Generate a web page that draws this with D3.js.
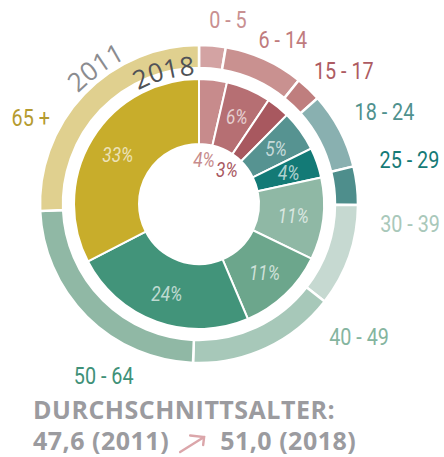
<!DOCTYPE html>
<html>
<head>
<meta charset="utf-8">
<script src="https://cdn.jsdelivr.net/npm/d3@7"></script>
<style>
  html, body { margin: 0; padding: 0; background: #fff; }
  svg { display: block; }
</style>
</head>
<body>
<div id="chart"></div>
<script>
// age groups and shares (percent of population), outer ring = 2011, inner ring = 2018
const ageGroups = ['0 - 5', '6 - 14', '15 - 17', '18 - 24', '25 - 29', '30 - 39', '40 - 49', '50 - 64', '65 +'];
const share2011 = [2.7, 8.1, 2.6, 7.8, 3.9, 10.4, 15.1, 23.7, 25.7];
const share2018 = [3.6, 5.8, 3.0, 5.3, 3.9, 10.6, 11.4, 23.8, 32.6];
const ringYears = ['2011', '2018'];
const averageAge = ['47,6', '51,0'];
const averageTitle = 'DURCHSCHNITTSALTER:';

const colors2011 = ['#d3a3a3', '#c99190', '#bf7e7e', '#89b0b0', '#4e8e8c', '#c6d9d1', '#a7c8b9', '#90b8a5', '#e0d08f'];
const colors2018 = ['#c78b8c', '#b66f73', '#a8585f', '#569391', '#137a76', '#8fb8a5', '#6ca68c', '#42947a', '#c8ad2b'];
const labelColors = ['#c99091', '#c07c7d', '#ad5b62', '#4f918e', '#157a76', '#a9c8ba', '#85b59f', '#3f9178', '#b59b2f'];

const width = 444;
const height = 457;
const cx = 199;
const cy = 204;
const narrow = 0.86; // squeeze to imitate a condensed face
const narrowFont = 'Roboto, "Liberation Sans", sans-serif';
const toRad = (deg) => deg * Math.PI / 180;

// where each age label sits (angle clockwise from 12 o'clock, radius)
const outerLabelPolar = [[8.9, 187], [27.1, 184], [47.3, 197], [63.6, 207], [78.2, 215], [95.4, 212], [129.7, 208], [209.1, 196], [297.1, 189]];

const svg = d3.select('#chart').append('svg')
  .attr('width', width)
  .attr('height', height)
  .attr('viewBox', `0 0 ${width} ${height}`);

const pie = d3.pie().sort(null).value((d) => d);
const arcs2011 = pie(share2011);
const arcs2018 = pie(share2018);

const outerArc = d3.arc().innerRadius(136).outerRadius(159);
const innerArc = d3.arc().innerRadius(60).outerRadius(125);
const labelArc = d3.arc().innerRadius(95).outerRadius(95);
const holeArc = d3.arc().innerRadius(44).outerRadius(44);

const donut = svg.append('g').attr('transform', `translate(${cx},${cy})`);

donut.append('g').selectAll('path')
  .data(arcs2011)
  .join('path')
  .attr('d', outerArc)
  .attr('fill', (d, i) => colors2011[i])
  .attr('stroke', '#fff')
  .attr('stroke-width', 2.5);

donut.append('g').selectAll('path')
  .data(arcs2018)
  .join('path')
  .attr('d', innerArc)
  .attr('fill', (d, i) => colors2018[i])
  .attr('stroke', '#fff')
  .attr('stroke-width', 2);

// percent labels: narrow slices get their label in the hole
const isNarrow = (d) => (d.endAngle - d.startAngle) < toRad(13.5);
donut.append('g').selectAll('text')
  .data(arcs2018)
  .join('text')
  .attr('transform', (d) => `translate(${(isNarrow(d) ? holeArc : labelArc).centroid(d)}) scale(${narrow},1)`)
  .attr('text-anchor', 'middle')
  .attr('dy', '0.36em')
  .attr('font-family', narrowFont)
  .attr('font-style', 'italic')
  .attr('font-size', 20)
  .attr('fill', (d, i) => (isNarrow(d) ? colors2018[i] : 'rgba(255,255,255,0.68)'))
  .text((d) => `${Math.round(d.data)}%`);

// age group labels
svg.append('g').selectAll('text')
  .data(ageGroups)
  .join('text')
  .attr('transform', (d, i) => {
    const [a, r] = outerLabelPolar[i];
    return `translate(${cx + r * Math.sin(toRad(a))},${cy - r * Math.cos(toRad(a))}) scale(${narrow},1)`;
  })
  .attr('text-anchor', 'middle')
  .attr('dy', '0.36em')
  .attr('font-family', narrowFont)
  .attr('font-size', 23)
  .attr('fill', (d, i) => labelColors[i])
  .text((d) => d);

// curved year labels
const arcPath = (x0, y0, r, a0, a1) => {
  const p0 = [x0 + r * Math.sin(toRad(a0)), y0 - r * Math.cos(toRad(a0))];
  const p1 = [x0 + r * Math.sin(toRad(a1)), y0 - r * Math.cos(toRad(a1))];
  return `M${p0[0]},${p0[1]} A${r},${r} 0 0 1 ${p1[0]},${p1[1]}`;
};
const defs = svg.append('defs');
defs.append('path').attr('id', 'path-2011').attr('d', arcPath(218, 236, 200, -62, -10));
defs.append('path').attr('id', 'path-2018').attr('d', arcPath(cx, cy, 129, -45, 15));

const yearStyle = [{ id: 'path-2011', fill: '#8b8c90' }, { id: 'path-2018', fill: '#4f5257' }];
svg.append('g').selectAll('text')
  .data(ringYears)
  .join('text')
  .attr('font-family', '"Open Sans", "DejaVu Sans", sans-serif')
  .attr('font-size', 26)
  .attr('fill', (d, i) => yearStyle[i].fill)
  .append('textPath')
  .attr('href', (d, i) => `#${yearStyle[i].id}`)
  .attr('startOffset', '50%')
  .attr('text-anchor', 'middle')
  .text((d) => d);

// average age footer
const footer = svg.append('g')
  .attr('font-family', '"Open Sans", "DejaVu Sans", sans-serif')
  .attr('font-weight', 'bold')
  .attr('font-size', 25)
  .attr('letter-spacing', 0.5)
  .attr('fill', '#9b9b9f');

footer.append('text').attr('x', 33).attr('y', 419).text(averageTitle);
const first = footer.append('text').attr('x', 33).attr('y', 450).text(`${averageAge[0]} (${ringYears[0]})`);
const firstEnd = 33 + first.node().getComputedTextLength();
const ax = firstEnd + 11;
svg.append('path')
  .attr('d', `M${ax},452 L${ax + 24},437 M${ax + 10},435.5 L${ax + 24},437 L${ax + 23},445`)
  .attr('fill', 'none')
  .attr('stroke', '#dba6aa')
  .attr('stroke-width', 2.4)
  .attr('stroke-linecap', 'round');
footer.append('text').attr('x', ax + 40).attr('y', 450).text(`${averageAge[1]} (${ringYears[1]})`);
</script>
</body>
</html>
